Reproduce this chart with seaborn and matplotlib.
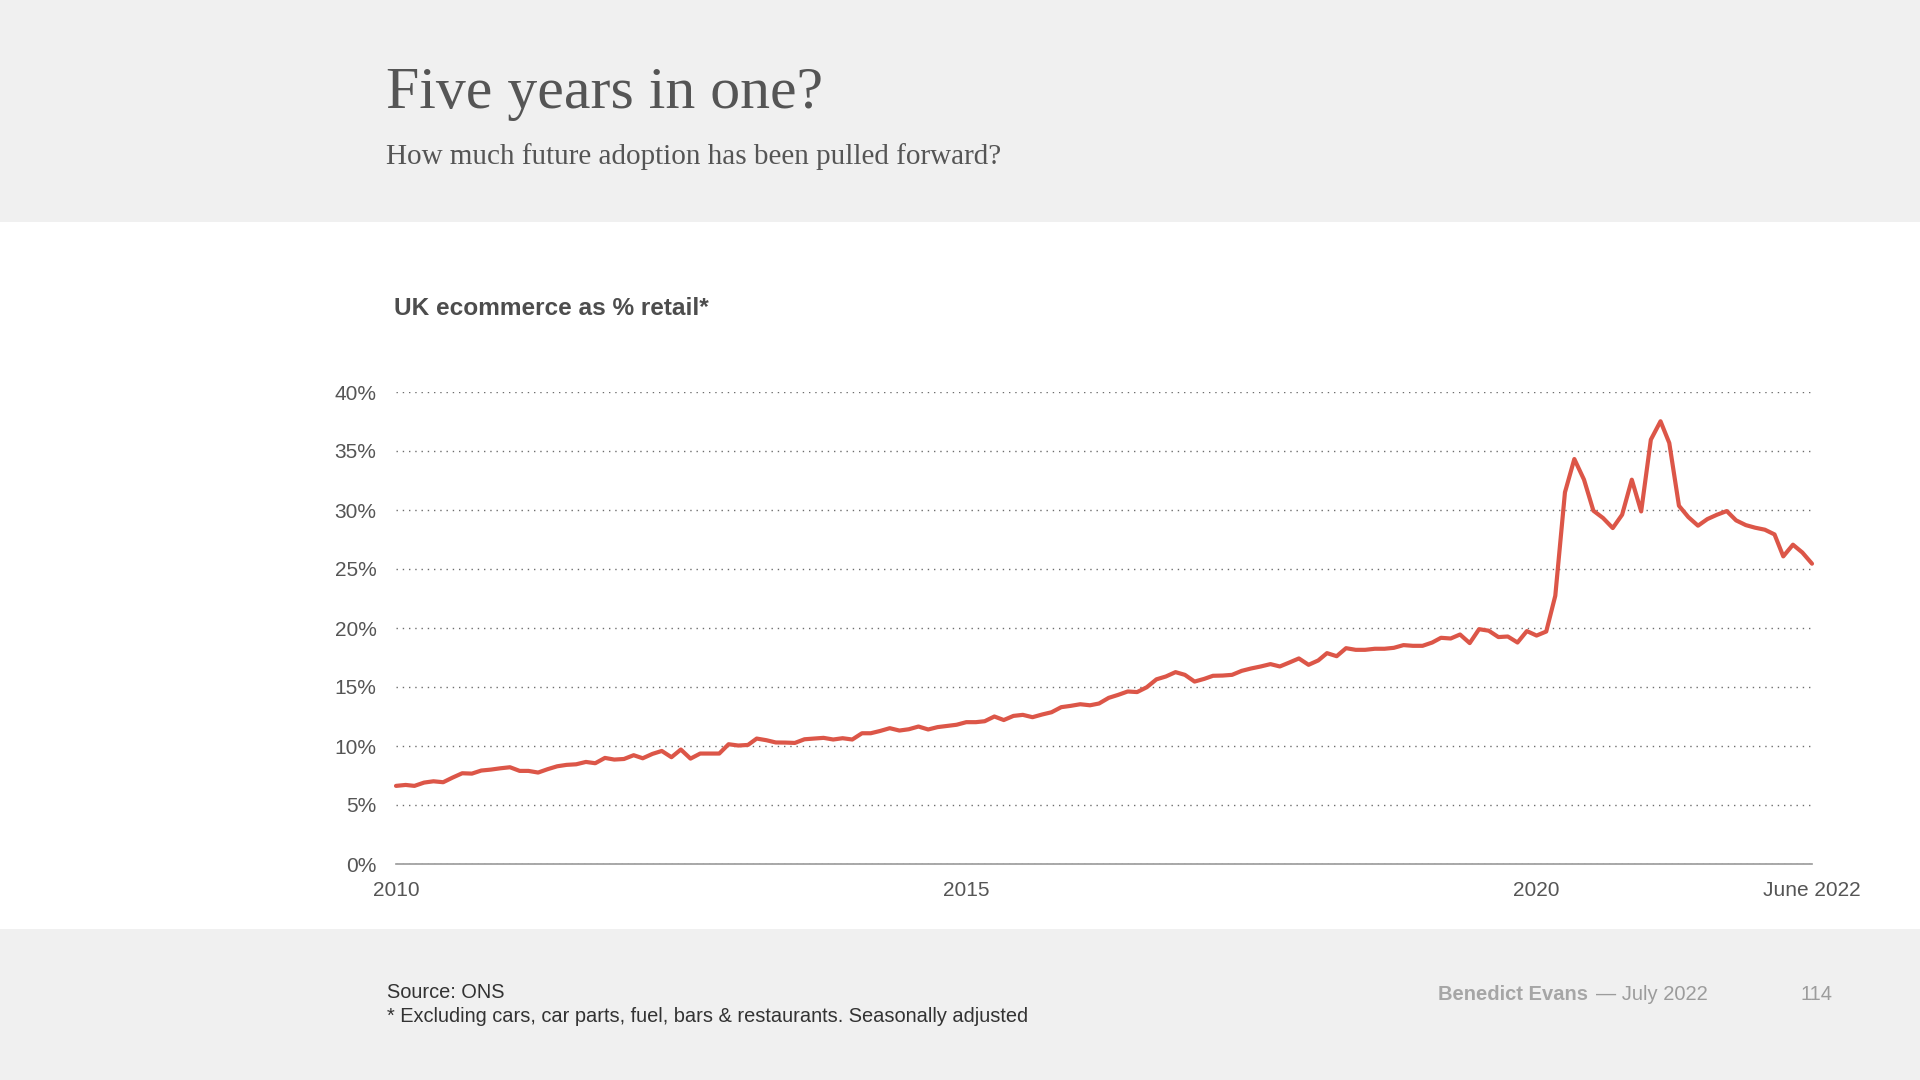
import matplotlib.pyplot as plt
import pandas as pd
import seaborn as sns
from matplotlib.patches import Rectangle

# monthly, Jan 2010 .. Jun 2022
MONTHS = pd.date_range("2010-01-01", "2022-06-01", freq="MS")
ECOMMERCE_SHARE = [
    6.62, 6.70, 6.62, 6.90, 7.01, 6.93, 7.32, 7.69, 7.66, 7.92, 8.00, 8.11,
    8.20, 7.89, 7.89, 7.75, 8.03, 8.28, 8.40, 8.45, 8.65, 8.54, 8.99, 8.85,
    8.90, 9.22, 8.96, 9.33, 9.58, 9.05, 9.70, 8.93, 9.36, 9.36, 9.36, 10.15,
    10.04, 10.09, 10.63, 10.49, 10.30, 10.29, 10.26, 10.57, 10.63, 10.69, 10.55, 10.66,
    10.55, 11.08, 11.08, 11.28, 11.51, 11.31, 11.42, 11.65, 11.40, 11.60, 11.70, 11.80,
    12.02, 12.02, 12.10, 12.50, 12.20, 12.55, 12.64, 12.44, 12.67, 12.86, 13.29, 13.40,
    13.54, 13.45, 13.60, 14.08, 14.33, 14.62, 14.57, 14.98, 15.65, 15.89, 16.26, 16.03,
    15.46, 15.69, 15.95, 15.97, 16.03, 16.37, 16.57, 16.74, 16.94, 16.74, 17.08, 17.42,
    16.88, 17.25, 17.87, 17.61, 18.29, 18.15, 18.15, 18.24, 18.24, 18.32, 18.55, 18.49,
    18.49, 18.77, 19.17, 19.11, 19.45, 18.72, 19.90, 19.77, 19.23, 19.28, 18.77, 19.74,
    19.36, 19.70, 22.73, 31.50, 34.32, 32.57, 29.94, 29.32, 28.47, 29.60, 32.57, 29.88,
    35.96, 37.52, 35.68, 30.36, 29.40, 28.67, 29.23, 29.60, 29.91, 29.12, 28.72, 28.50,
    28.33, 27.93, 26.07, 27.06, 26.40, 25.45,
]
Y_TICKS = [0, 5, 10, 15, 20, 25, 30, 35, 40]
Y_TICK_LABELS = ["0%", "5%", "10%", "15%", "20%", "25%", "30%", "35%", "40%"]
X_TICKS = pd.to_datetime(["2010-01-01", "2015-01-01", "2020-01-01", "2022-06-01"])
X_TICK_LABELS = ["2010", "2015", "2020", "June 2022"]

TITLE = "Five years in one?"
SUBTITLE = "How much future adoption has been pulled forward?"
CHART_TITLE = "UK ecommerce as % retail*"
SOURCE = "Source: ONS"
FOOTNOTE = "* Excluding cars, car parts, fuel, bars & restaurants. Seasonally adjusted"

W, H = 1920, 1080
BAND = "#f0f0f0"
LINE_RED = "#dc5648"
TEXT_GREY = "#555555"


def px(x, y):
    # pixel position (from top-left) -> figure fraction
    return x / W, 1 - y / H


def main():
    sns.set_theme(style="white")
    plt.rcParams["font.family"] = ["Liberation Sans", "DejaVu Sans"]

    fig = plt.figure(figsize=(W / 100, H / 100), dpi=100, facecolor="white")
    fig.patches.append(Rectangle((0, 1 - 222 / H), 1, 222 / H, transform=fig.transFigure,
                                 facecolor=BAND, edgecolor="none", zorder=0))
    fig.patches.append(Rectangle((0, 0), 1, (H - 929) / H, transform=fig.transFigure,
                                 facecolor=BAND, edgecolor="none", zorder=0))

    serif = ["Liberation Serif", "DejaVu Serif"]
    fig.text(*px(386, 108), TITLE, family=serif, fontsize=43, color=TEXT_GREY, va="baseline")
    fig.text(*px(386, 164), SUBTITLE, family=serif, fontsize=21, color=TEXT_GREY, va="baseline")
    fig.text(*px(394, 315), CHART_TITLE, fontsize=17.6, fontweight="bold", color="#4d4d4d", va="baseline")

    ax = fig.add_axes([396 / W, 216 / H, 1416 / W, 472 / H])
    df = pd.DataFrame({"month": MONTHS, "share": ECOMMERCE_SHARE})
    sns.lineplot(data=df, x="month", y="share", ax=ax, color=LINE_RED, linewidth=3.0)

    ax.set_xlim(MONTHS[0], MONTHS[-1])
    ax.set_ylim(0, 40)
    ax.set_yticks(Y_TICKS, Y_TICK_LABELS)
    ax.set_xticks(X_TICKS, X_TICK_LABELS)
    ax.set_xlabel("")
    ax.set_ylabel("")
    ax.set_facecolor("none")
    for line in ax.lines:
        line.set_clip_on(False)

    ax.yaxis.grid(True, linestyle=(0, (1, 3.5)), color="#6e6e6e", linewidth=1)
    ax.xaxis.grid(False)
    for side in ["top", "left", "right"]:
        ax.spines[side].set_visible(False)
    ax.spines["bottom"].set_color("#9a9a9a")
    ax.spines["bottom"].set_linewidth(1.2)
    ax.spines["bottom"].set_zorder(3)
    ax.tick_params(axis="y", length=0, pad=14, labelsize=15, labelcolor=TEXT_GREY)
    ax.tick_params(axis="x", length=0, pad=12, labelsize=15, labelcolor=TEXT_GREY)

    fig.text(*px(387, 998), SOURCE, fontsize=14.4, color="#333333", va="baseline")
    fig.text(*px(387, 1022), FOOTNOTE, fontsize=14.4, color="#333333", va="baseline")
    fig.text(*px(1438, 1000), "Benedict Evans", fontsize=14.5, fontweight="bold", color="#a6a6a6", va="baseline")
    fig.text(*px(1596, 1000), "\u2014 July 2022", fontsize=14.5, color="#9c9c9c", va="baseline")
    fig.text(*px(1833, 1000), "114", fontsize=14.5, color="#9c9c9c", va="baseline", ha="right")

    fig.savefig("out.png", dpi=100, facecolor=fig.get_facecolor())
    plt.close(fig)


if __name__ == "__main__":
    main()
